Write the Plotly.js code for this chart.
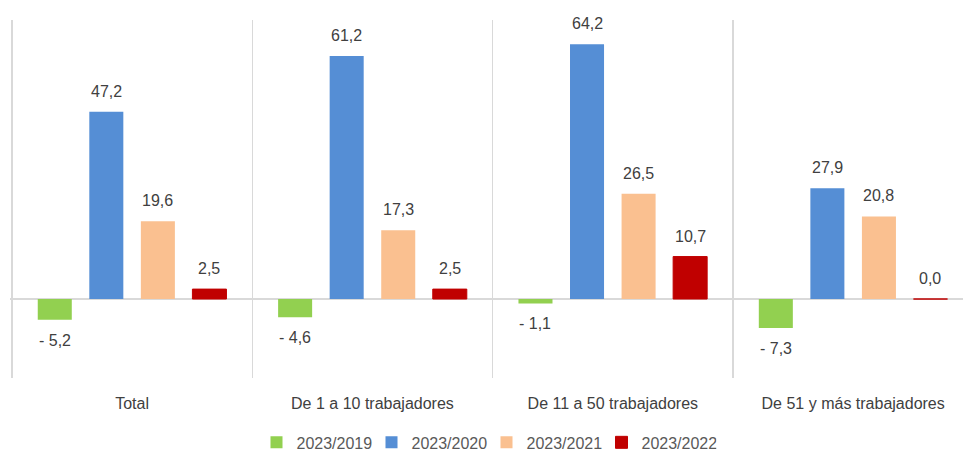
<!DOCTYPE html>
<html><head><meta charset="utf-8">
<script src="https://cdn.plot.ly/plotly-3.0.1.min.js"></script>
<style>html,body{margin:0;padding:0;background:#fff}#chart{width:963px;height:452px}</style>
</head><body><div id="chart"></div>
<script>
const categories = ["Total", "De 1 a 10 trabajadores", "De 11 a 50 trabajadores", "De 51 y más trabajadores"];
const seriesNames = ["2023/2019", "2023/2020", "2023/2021", "2023/2022"];
const v2019 = [-5.2, -4.6, -1.1, -7.3];
const v2020 = [47.2, 61.2, 64.2, 27.9];
const v2021 = [19.6, 17.3, 26.5, 20.8];
const v2022 = [2.5, 2.5, 10.7, 0.0];
const colors = ["#92D050", "#558ED5", "#FAC090", "#C00000"];

const allSeries = [v2019, v2020, v2021, v2022];
const fmt = v => (v < 0 ? "- " : "") + Math.abs(v).toFixed(1).replace(".", ",");

const traces = allSeries.map((vals, i) => ({
  type: "bar", name: seriesNames[i], x: categories, y: vals,
  marker: {color: colors[i], line: {color: colors[i], width: i === 3 ? 1 : 0}},
  hoverinfo: "skip"
}));

const bargap = 0.142, groupgap = 0.34;
const slot = (1 - bargap) / 4;
const annotations = [];
allSeries.forEach((vals, i) => {
  vals.forEach((v, j) => {
    annotations.push({
      x: j + (i - 1.5) * slot, y: v, xref: "x", yref: "y",
      text: fmt(v), showarrow: false,
      yanchor: v >= 0 ? "bottom" : "top",
      yshift: v >= 0 ? 10 : -10,
      font: {family: "Liberation Sans, Arial, sans-serif", size: 16, color: "#404040"}
    });
  });
});

const layout = {
  width: 963, height: 452,
  margin: {l: 10, r: 0, t: 20, b: 74, autoexpand: false},
  paper_bgcolor: "#fff", plot_bgcolor: "#fff",
  barmode: "group", bargap: bargap, bargroupgap: groupgap,
  showlegend: true,
  legend: {orientation: "h", x: 0.5, xanchor: "center", y: -0.18, yanchor: "middle",
    font: {family: "Liberation Sans, Arial, sans-serif", size: 16, color: "#595959"},
    itemwidth: 30, tracegroupgap: 0, entrywidth: 70},
  xaxis: {type: "category", range: [-0.508, 3.457], tickson: "boundaries", showgrid: true,
    gridcolor: "#d9d9d9", gridwidth: 1.5, ticks: "", showline: false, zeroline: false,
    automargin: false, ticklabelstandoff: 14,
    tickfont: {family: "Liberation Sans, Arial, sans-serif", size: 16, color: "#404040"}},
  yaxis: {range: [-19.9, 70.3], showgrid: false, showticklabels: false, ticks: "",
    automargin: false,
    zeroline: true, zerolinecolor: "#d9d9d9", zerolinewidth: 1.5, showline: false},
  annotations: annotations
};
Plotly.newPlot("chart", traces, layout, {displayModeBar: false, staticPlot: true});
</script></body></html>
